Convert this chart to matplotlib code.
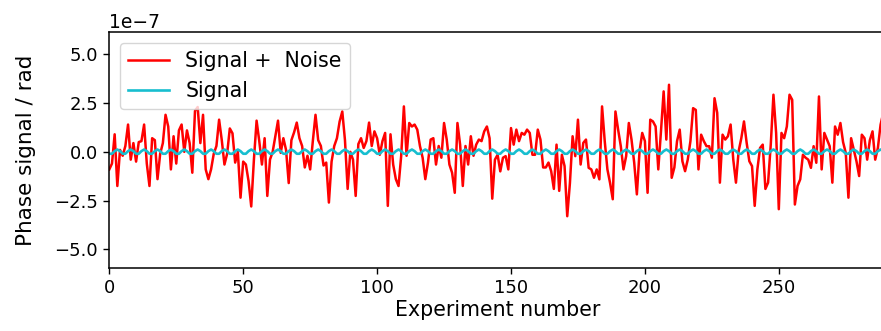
import matplotlib
matplotlib.use("Agg")
import matplotlib.pyplot as plt
import numpy as np

signal_noise = [
    -0.9, -0.6, 0.9, -1.75, 0.1, -0.2, 0.3, 1.4, -0.4, 0.45,
    -0.5, 0.5, 0.55, 1.4, -0.6, -1.75, 0.7, 0.6, -1.4, -0.1,
    0.45, 1.9, 1.3, -0.9, 0.8, -0.6, 1.1, 1.4, 0.0, 1.1,
    0.45, -1.07, 2.1, 2.3, 0.45, 1.9, -0.9, -1.4, -0.9, -0.1,
    0.3, 1.65, 0.6, -0.65, -0.1, 1.2, 0.95, -0.55, 0.0, -2.35,
    -0.5, -0.65, -1.5, -2.8, -0.4, 1.6, 0.55, -0.65, 0.7, -2.26,
    -0.4, 0.0, 0.8, 1.6, -0.05, 0.7, 0.1, -1.6, 0.6, 1.0,
    1.5, 0.7, 0.3, -0.8, -0.2, -0.9, 0.55, 1.9, 0.6, 0.3,
    -0.7, -0.55, -2.6, -0.5, 0.3, 0.7, 1.55, 2.07, 0.6, -1.9,
    0.0, -0.4, -2.26, 0.4, 0.7, 0.2, 0.55, 1.5, 0.3, 1.05,
    0.7, -0.15, 0.55, 0.97, -2.77, 0.9, -0.65, -1.4, -1.75, -0.2,
    2.33, -0.2, 1.48, 1.3, 1.4, 1.14, 0.3, -0.3, -1.4, -0.55,
    0.63, 0.7, -0.65, 0.3, -0.3, 1.48, 0.63, -0.65, -1.07, -2.1,
    1.48, 0.37, -1.75, 0.3, -0.65, 0.8, -0.2, 0.37, 0.63, 0.55,
    1.05, 1.3, 0.7, -2.4, -0.4, -0.15, -1.0, -0.3, -0.22, -0.9,
    1.22, 0.37, 1.14, 0.55, 0.97, 0.88, 1.14, 0.97, -0.15, -0.15,
    1.14, 0.63, -0.8, -0.8, -0.55, -0.99, -1.9, 0.37, -2.0, -0.15,
    -0.73, -3.3, -1.6, 0.8, -0.22, 1.65, -0.65, 0.46, 0.63, -0.82,
    -0.9, -1.33, -0.9, -1.41, 2.33, 0.55, -0.9, -1.6, -2.43, 2.07,
    1.14, 0.29, -0.9, -0.22, 1.48, 0.63, -0.55, -2.18, 0.03, 0.97,
    0.55, -2.1, 1.65, 1.56, 1.3, -0.9, 1.05, 3.1, 0.63, 3.44,
    -1.33, -0.8, 0.55, 1.14, -0.48, -0.99, -0.4, 0.55, 2.24, 2.15,
    -0.9, 0.88, 0.55, 0.29, 0.29, -0.3, 2.75, 2.0, -1.58, 0.88,
    0.63, 0.8, 1.4, -0.4, -1.58, 0.03, 0.7, 1.56, 0.46, -0.48,
    -0.73, -2.77, -0.9, 0.2, 0.37, -1.9, -1.58, 0.37, 2.93, 0.97,
    -2.94, 0.97, 0.7, 1.3, 2.93, 2.67, -2.7, -1.75, -1.41, -0.15,
    -0.3, -0.4, -0.82, 0.29, -0.56, 2.84, -0.9, 0.97, 0.63, 0.29,
    -1.58, 1.3, 0.88, 1.48, 0.5, -0.05, -2.35, 0.7, 0.12, -0.48,
    -1.24, 0.88, 0.7, -0.4, 0.6, 1.05, -0.4, 0.2, 1.39, 2.0,
]

# Clean signal (units of 1e-7 rad)
signal_clean = [
    -0.097, -0.097, 0.037, 0.12, 0.037, -0.097, -0.097, 0.037, 0.12, 0.037,
    -0.097, -0.097, 0.037, 0.12, 0.037, -0.097, -0.097, 0.037, 0.12, 0.037,
    -0.097, -0.097, 0.037, 0.12, 0.037, -0.097, -0.097, 0.037, 0.12, 0.037,
    -0.097, -0.097, 0.037, 0.12, 0.037, -0.097, -0.097, 0.037, 0.12, 0.037,
    -0.097, -0.097, 0.037, 0.12, 0.037, -0.097, -0.097, 0.037, 0.12, 0.037,
    -0.097, -0.097, 0.037, 0.12, 0.037, -0.097, -0.097, 0.037, 0.12, 0.037,
    -0.097, -0.097, 0.037, 0.12, 0.037, -0.097, -0.097, 0.037, 0.12, 0.037,
    -0.097, -0.097, 0.037, 0.12, 0.037, -0.097, -0.097, 0.037, 0.12, 0.037,
    -0.097, -0.097, 0.037, 0.12, 0.037, -0.097, -0.097, 0.037, 0.12, 0.037,
    -0.097, -0.097, 0.037, 0.12, 0.037, -0.097, -0.097, 0.037, 0.12, 0.037,
    -0.097, -0.097, 0.037, 0.12, 0.037, -0.097, -0.097, 0.037, 0.12, 0.037,
    -0.097, -0.097, 0.037, 0.12, 0.037, -0.097, -0.097, 0.037, 0.12, 0.037,
    -0.097, -0.097, 0.037, 0.12, 0.037, -0.097, -0.097, 0.037, 0.12, 0.037,
    -0.097, -0.097, 0.037, 0.12, 0.037, -0.097, -0.097, 0.037, 0.12, 0.037,
    -0.097, -0.097, 0.037, 0.12, 0.037, -0.097, -0.097, 0.037, 0.12, 0.037,
    -0.097, -0.097, 0.037, 0.12, 0.037, -0.097, -0.097, 0.037, 0.12, 0.037,
    -0.097, -0.097, 0.037, 0.12, 0.037, -0.097, -0.097, 0.037, 0.12, 0.037,
    -0.097, -0.097, 0.037, 0.12, 0.037, -0.097, -0.097, 0.037, 0.12, 0.037,
    -0.097, -0.097, 0.037, 0.12, 0.037, -0.097, -0.097, 0.037, 0.12, 0.037,
    -0.097, -0.097, 0.037, 0.12, 0.037, -0.097, -0.097, 0.037, 0.12, 0.037,
    -0.097, -0.097, 0.037, 0.12, 0.037, -0.097, -0.097, 0.037, 0.12, 0.037,
    -0.097, -0.097, 0.037, 0.12, 0.037, -0.097, -0.097, 0.037, 0.12, 0.037,
    -0.097, -0.097, 0.037, 0.12, 0.037, -0.097, -0.097, 0.037, 0.12, 0.037,
    -0.097, -0.097, 0.037, 0.12, 0.037, -0.097, -0.097, 0.037, 0.12, 0.037,
    -0.097, -0.097, 0.037, 0.12, 0.037, -0.097, -0.097, 0.037, 0.12, 0.037,
    -0.097, -0.097, 0.037, 0.12, 0.037, -0.097, -0.097, 0.037, 0.12, 0.037,
    -0.097, -0.097, 0.037, 0.12, 0.037, -0.097, -0.097, 0.037, 0.12, 0.037,
    -0.097, -0.097, 0.037, 0.12, 0.037, -0.097, -0.097, 0.037, 0.12, 0.037,
    -0.097, -0.097, 0.037, 0.12, 0.037, -0.097, -0.097, 0.037, 0.12, 0.037,
]

scale = 1e-7
experiments = np.arange(len(signal_noise))

label_noise = "Signal +  Noise"
label_clean = "Signal"
xlabel = "Experiment number"
ylabel = "Phase signal / rad"

W, H = 881, 331
fig = plt.figure(figsize=(W / 100, H / 100), dpi=100)
left_px, right_px, top_px, bottom_px = 109.3, 886.0, 32.3, 267.7
ax = fig.add_axes([left_px / W, 1 - bottom_px / H,
                   (right_px - left_px) / W, (bottom_px - top_px) / H])

ax.plot(experiments, np.array(signal_noise) * scale, color="red", lw=1.8,
        label=label_noise)
ax.plot(experiments, np.array(signal_clean[:len(signal_noise)]) * scale,
        color="#17becf", lw=1.9, label=label_clean)

ax.set_xlim(0, (right_px - left_px) / 2.678)
ax.set_ylim(-5.94e-7, 6.13e-7)
ax.set_xticks([0, 50, 100, 150, 200, 250])
ax.set_yticks([-5e-7, -2.5e-7, 0, 2.5e-7, 5e-7])

ax.tick_params(labelsize=13, length=4.5, width=1.0)
ax.yaxis.get_offset_text().set_fontsize(13.5)
ax.set_xlabel(xlabel, fontsize=14.8, labelpad=2)
ax.set_ylabel(ylabel, fontsize=15.5, labelpad=13)
for s in ax.spines.values():
    s.set_linewidth(1.1)

ax.legend(loc="upper left", fontsize=14.8, handlelength=2.0,
          borderaxespad=0.5)

fig.savefig("out.png", dpi=100)
